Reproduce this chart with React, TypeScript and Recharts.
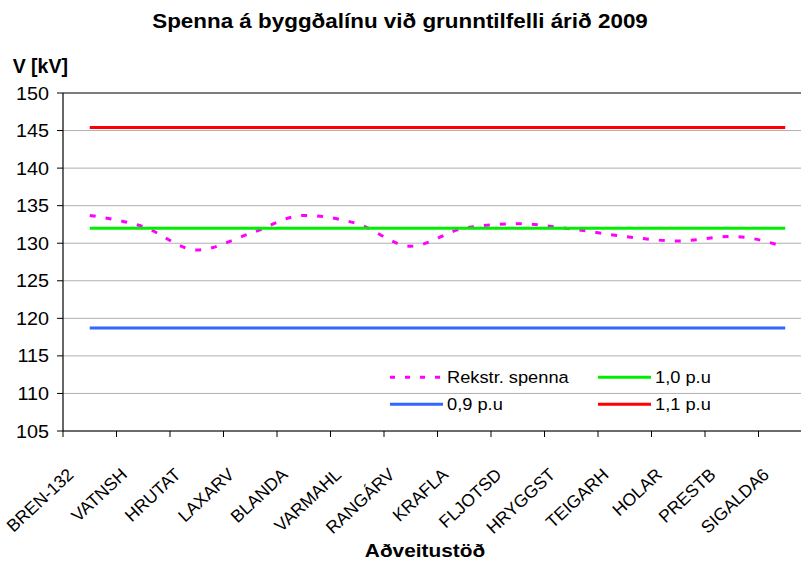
import React from 'react';
import { LineChart, Line, XAxis, YAxis, CartesianGrid, ReferenceLine } from 'recharts';

const categories = ['BREN-132', 'VATNSH', 'HRUTAT', 'LAXARV', 'BLANDA', 'VARMAHL', 'RANGÁRV', 'KRAFLA', 'FLJOTSD', 'HRYGGST', 'TEIGARH', 'HOLAR', 'PRESTB', 'SIGALDA6'];
const rekstrSpenna = [133.7, 132.2, 129.1, 131.3, 133.7, 132.6, 129.6, 132.0, 132.6, 131.9, 130.9, 130.3, 130.9, 129.5];
const pu10 = [132, 132, 132, 132, 132, 132, 132, 132, 132, 132, 132, 132, 132, 132];
const pu09 = [118.7, 118.7, 118.7, 118.7, 118.7, 118.7, 118.7, 118.7, 118.7, 118.7, 118.7, 118.7, 118.7, 118.7];
const pu11 = [145.4, 145.4, 145.4, 145.4, 145.4, 145.4, 145.4, 145.4, 145.4, 145.4, 145.4, 145.4, 145.4, 145.4];
const yTicks = [105, 110, 115, 120, 125, 130, 135, 140, 145, 150];

const seriesNames = { rekstr: 'Rekstr. spenna', pu10: '1,0 p.u', pu09: '0,9 p.u', pu11: '1,1 p.u' };

const data = categories.map((name, i) => ({
  name,
  rekstr: rekstrSpenna[i],
  pu10: pu10[i],
  pu09: pu09[i],
  pu11: pu11[i],
}));

const W = 830;
const H = 562;
const MARGIN = { top: 93, right: 18, left: 0, bottom: 0 };
const Y_W = 63;
const X_H = 131;
const PLOT_W = W - MARGIN.left - MARGIN.right - Y_W;
const BAND = PLOT_W / categories.length;

const FONT = "'Liberation Sans', Arial, Helvetica, sans-serif";

const XTick = (props: any) => {
  const { x, y, payload } = props;
  const bx = x - BAND / 2;
  const tx = x - 15;
  const ty = y + 45;
  return (
    <g>
      <line x1={bx} y1={y} x2={bx} y2={y + 6} stroke="#000" strokeWidth={1} />
      <text
        x={tx}
        y={ty}
        transform={`rotate(-43, ${tx}, ${ty})`}
        textAnchor="end"
        fontSize={17.5}
        fill="#000"
        fontFamily={FONT}
      >
        {payload.value}
      </text>
    </g>
  );
};

const YTick = (props: any) => {
  const { x, y, payload } = props;
  return (
    <g transform={`translate(${x},${y})`}>
      <g transform="scale(1.07,1)">
        <text x={0} y={0} textAnchor="end" dy="0.355em" fontSize={18.5} fill="#000" fontFamily={FONT}>
          {payload.value}
        </text>
      </g>
    </g>
  );
};

const legendItems = [
  { key: 'rekstr', color: '#ff00ff', dash: '5 10', x: 390, y: 377.3 },
  { key: 'pu10', color: '#00ee00', dash: undefined, x: 598, y: 377.3 },
  { key: 'pu09', color: '#3366ff', dash: undefined, x: 390, y: 404.3 },
  { key: 'pu11', color: '#ff0000', dash: undefined, x: 598, y: 404.3 },
];

export default function App() {
  return (
    <div
      style={{
        position: 'fixed',
        left: 0,
        top: 0,
        width: 801,
        height: 562,
        overflow: 'hidden',
        background: '#fff',
        fontFamily: FONT,
      }}
    >
      <div style={{ position: 'absolute', left: 0, top: 0 }}>
        <LineChart width={W} height={H} data={data} margin={MARGIN}>
          <CartesianGrid vertical={false} stroke="#b0b0b0" strokeWidth={1} />
          <ReferenceLine y={150} stroke="#222" strokeWidth={1.2} />
          <XAxis
            dataKey="name"
            height={X_H}
            interval={0}
            padding={{ left: BAND / 2, right: BAND / 2 }}
            tickSize={0}
            tickMargin={0}
            tickLine={false}
            tick={(p: any) => <XTick {...p} />}
            stroke="#000"
            axisLine={{ stroke: '#000', strokeWidth: 1.2 }}
          />
          <YAxis
            width={Y_W}
            domain={[105, 150]}
            ticks={yTicks}
            interval={0}
            tickSize={6}
            tickMargin={8}
            tick={(p: any) => <YTick {...p} />}
            tickLine={{ stroke: '#000' }}
            axisLine={{ stroke: '#000', strokeWidth: 1.2 }}
            allowDataOverflow
          />
          <Line
            dataKey="rekstr"
            name={seriesNames.rekstr}
            type="monotone"
            stroke="#ff00ff"
            strokeWidth={3}
            strokeDasharray="6 10"
            dot={false}
            isAnimationActive={false}
          />
          <Line dataKey="pu09" name={seriesNames.pu09} type="linear" stroke="#3366ff" strokeWidth={3} dot={false} isAnimationActive={false} />
          <Line dataKey="pu10" name={seriesNames.pu10} type="linear" stroke="#00ee00" strokeWidth={3} dot={false} isAnimationActive={false} />
          <Line dataKey="pu11" name={seriesNames.pu11} type="linear" stroke="#ff0000" strokeWidth={3} dot={false} isAnimationActive={false} />
        </LineChart>
      </div>
      <svg
        width={801}
        height={562}
        style={{ position: 'absolute', left: 0, top: 0, pointerEvents: 'none' }}
      >
        <text
          transform="translate(400,28.3) scale(1.15,1)"
          textAnchor="middle"
          fontWeight="bold"
          fontSize={19.5}
          fill="#000"
          fontFamily={FONT}
        >
          Spenna á byggðalínu við grunntilfelli árið 2009
        </text>
        <text x={12.7} y={73} fontWeight="bold" fontSize={19.5} fill="#000" fontFamily={FONT}>
          V [kV]
        </text>
        <text
          transform="translate(425,557) scale(1.12,1)"
          textAnchor="middle"
          fontWeight="bold"
          fontSize={18.6}
          fill="#000"
          fontFamily={FONT}
        >
          Aðveitustöð
        </text>
        {legendItems.map((it) => (
          <g key={it.key}>
            <line
              x1={it.x}
              y1={it.y}
              x2={it.x + 53}
              y2={it.y}
              stroke={it.color}
              strokeWidth={3}
              strokeDasharray={it.dash}
            />
            <text
              transform={`translate(${it.x + 57},${it.y + 6}) scale(1.12,1)`}
              fontSize={16.3}
              fill="#000"
              fontFamily={FONT}
            >
              {seriesNames[it.key as keyof typeof seriesNames]}
            </text>
          </g>
        ))}
      </svg>
    </div>
  );
}
